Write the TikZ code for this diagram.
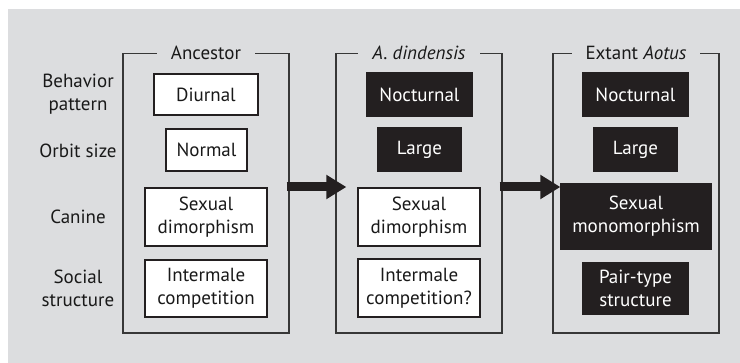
\documentclass[tikz,border=0pt]{standalone}
\usepackage{fontspec}
\setmainfont{PT Sans}
\usetikzlibrary{arrows.meta}
\definecolor{bggray}{RGB}{220,221,223}
\definecolor{inkblack}{RGB}{35,31,32}
\definecolor{framegray}{RGB}{55,55,55}
\begin{document}
\begin{tikzpicture}[x=1pt,y=-1pt,
  every node/.style={font=\fontsize{19}{23}\selectfont, align=center, inner sep=0pt},
  frame/.style={draw=framegray, line width=1.3pt, minimum width=166pt, minimum height=279.5pt},
  ftitle/.style={fill=bggray, inner xsep=14pt, inner ysep=2pt, text=black!90},
  wbox/.style={draw=inkblack, line width=1.3pt, fill=white, text=black!90},
  bbox/.style={draw=inkblack, line width=1.3pt, fill=inkblack, text=white},
  rowlabel/.style={text=black!90},
  bigarrow/.style={draw=inkblack, line width=9pt, -{Triangle[length=20pt,width=23pt]}}
]
\useasboundingbox (0,0) rectangle (740,363);
\fill[bggray] (8,9) rectangle (740,363);

% frames
\node[frame] (fa) at (206,193.25) {};
\node[frame] (fb) at (419,193.25) {};
\node[frame] (fc) at (636,193.25) {};
\node[ftitle] (ta) at (fa.north) {Ancestor};
\node[ftitle] (tb) at (fb.north) {\itshape A. dindensis};
\node[ftitle] (tc) at (fc.north) {Extant \itshape Aotus};

% row labels
\node[rowlabel] (l1) at (78,94) {Behavior\\pattern};
\node[rowlabel] (l2) at (78,151) {Orbit size};
\node[rowlabel] (l3) at (78,217) {Canine};
\node[rowlabel] (l4) at (78,288.5) {Social\\structure};

% ancestor
\node[wbox, minimum width=104pt, minimum height=41pt] (a1) at (206,94.5) {Diurnal};
\node[wbox, minimum width=81pt, minimum height=42pt] (a2) at (206.5,150) {Normal};
\node[wbox, minimum width=122pt, minimum height=58pt] (a3) at (206,217) {Sexual\\dimorphism};
\node[wbox, minimum width=122pt, minimum height=57pt] (a4) at (206,288.5) {Intermale\\competition};

% A. dindensis
\node[bbox, minimum width=105pt, minimum height=43pt] (b1) at (419.5,94.5) {Nocturnal};
\node[bbox, minimum width=83pt, minimum height=43pt] (b2) at (419.5,149.5) {Large};
\node[wbox, minimum width=122pt, minimum height=58pt] (b3) at (419,217) {Sexual\\dimorphism};
\node[wbox, minimum width=122pt, minimum height=58pt] (b4) at (419,288) {Intermale\\competition?};

% extant Aotus
\node[bbox, minimum width=105pt, minimum height=43pt] (c1) at (635.5,94.5) {Nocturnal};
\node[bbox, minimum width=83pt, minimum height=43pt] (c2) at (635.5,149.5) {Large};
\node[bbox, minimum width=150pt, minimum height=65pt] (c3) at (636,216.5) {Sexual\\monomorphism};
\node[bbox, minimum width=105pt, minimum height=51pt] (c4) at (635.5,288.5) {Pair-type\\structure};

% arrows
\coordinate (s1) at ([xshift=-3pt]fa.east |- 0,187);
\coordinate (e1) at ([xshift=11pt]fb.west |- 0,187);
\coordinate (s2) at ([xshift=-3pt]fb.east |- 0,187);
\coordinate (e2) at (c3.west |- 0,187);
\draw[bigarrow] (s1) -- (e1);
\draw[bigarrow] (s2) -- (e2);
\end{tikzpicture}
\end{document}
